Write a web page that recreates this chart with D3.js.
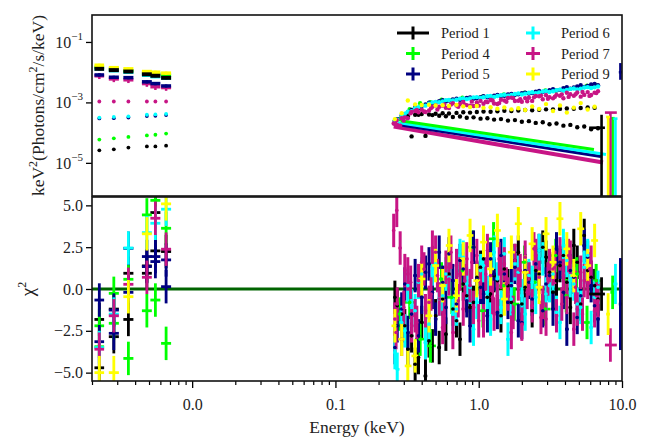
<!DOCTYPE html>
<html><head><meta charset="utf-8">
<script src="https://cdn.jsdelivr.net/npm/d3@7"></script>
<style>
html,body{margin:0;padding:0;background:#fff;}
svg{display:block;font-family:"Liberation Serif","Times New Roman",serif;}
</style></head><body>
<svg id="chart" width="648" height="440"></svg>
<script>
// ---------------- data ----------------
const periods = ["Period 1", "Period 4", "Period 5", "Period 6", "Period 7", "Period 9"];
const periodColors = ["#000000", "#00ff00", "#000080", "#00ffff", "#c71585", "#ffff00"];

const xTickValues = [0.01, 0.1, 1, 10];
const xTickLabels = ["0.0", "0.1", "1.0", "10.0"];
const fluxTickValues = [1e-1, 1e-3, 1e-5];
const fluxTickExp = ["−1", "−3", "−5"];
const chiTickValues = [-5, -2.5, 0, 2.5, 5];

// UV / optical filter bins (keV)
const uvE  = [0.00225, 0.00284, 0.00359, 0.00483, 0.00554, 0.00658];
const uvLo = [0.00208, 0.00262, 0.00331, 0.00446, 0.00511, 0.00607];
const uvHi = [0.00243, 0.00308, 0.00389, 0.00523, 0.00600, 0.00713];
const uvFracErr = [0.10, 0.12, 0.12, 0.10, 0.22, 0.12];

// unfolded UV flux, model and residuals per period
const p1Uv = [1.29e-2, 1.17e-2, 1.05e-2, 8.5e-3, 7.6e-3, 6.5e-3];
const p4Uv = [1.45e-2, 1.26e-2, 1.12e-2, 9.3e-3, 8.7e-3, 7.9e-3];
const p5Uv = [8.1e-3, 6.8e-3, 6.6e-3, 4.8e-3, 4.2e-3, 3.5e-3];
const p6Uv = [1.29e-2, 1.12e-2, 1.0e-2, 7.9e-3, 7.1e-3, 6.3e-3];
const p7Uv = [7.6e-3, 6.0e-3, 5.6e-3, 4.2e-3, 3.3e-3, 3.1e-3];
const p9Uv = [1.7e-2, 1.41e-2, 1.29e-2, 1.05e-2, 1.0e-2, 9.3e-3];

const p1UvModel = [2.6e-5, 2.8e-5, 3.2e-5, 3.5e-5, 3.5e-5, 3.7e-5];
const p4UvModel = [5.9e-5, 6.5e-5, 7.2e-5, 8.1e-5, 8.5e-5, 9.3e-5];
const p5UvModel = [2.95e-4, 3.0e-4, 3.15e-4, 3.55e-4, 3.6e-4, 3.8e-4];
const p6UvModel = [3.15e-4, 3.3e-4, 3.45e-4, 3.9e-4, 4.0e-4, 4.15e-4];
const p7UvModel = [1.07e-3, 1.07e-3, 1.07e-3, 1.07e-3, 1.07e-3, 1.07e-3];
const p9UvModel = [null, null, null, null, null, null];

const p1UvChi  = [-1.82, -1.2, 0.94, 1.38, 2.28, 2.24];
const p1UvChi2 = [-4.71, -2.85, -1.82, 0.94, 4.57, null];
const p4UvChi  = [-2.2, -0.26, 0.58, 4.43, -0.66, 3.63];
const p4UvChi2 = [-3.45, -2.05, -4.15, -1.3, 5.3, -3.25];
const p5UvChi  = [-0.66, -1.26, 2.43, 1.94, 1.64, 1.74];
const p5UvChi2 = [-3.15, -2.65, -0.2, 1.34, 1.94, 0.14];
const p6UvChi  = [-3.5, -1.5, 2.45, 3.37, 3.93, 4.77];
const p6UvChi2 = [null, null, null, null, null, null];
const p7UvChi  = [-3.6, -1.6, 0.28, 0.7, 4.23, 2.38];
const p7UvChi2 = [null, null, null, null, null, null];
const p9UvChi  = [-5.0, -5.0, -0.46, 3.3, null, 5.09];
const p9UvChi2 = [null, null, null, null, null, null];

// X-ray channel energies (keV)
const binsA = [0.26, 0.29, 0.32, 0.36, 0.40, 0.45, 0.50, 0.56, 0.62, 0.70, 0.78, 0.87, 0.97, 1.08, 1.21,
               1.35, 1.51, 1.69, 1.89, 2.11, 2.36, 2.64, 2.95, 3.30, 3.69, 4.12, 4.61, 5.15, 5.76, 6.44];
const binsB = [0.27, 0.305, 0.34, 0.38, 0.425, 0.475, 0.53, 0.59, 0.66, 0.74, 0.825, 0.92, 1.03, 1.15, 1.28,
               1.43, 1.60, 1.79, 2.00, 2.24, 2.50, 2.80, 3.12, 3.49, 3.90, 4.36, 4.87, 5.45, 6.09, 6.80];
const binsC = [0.265, 0.30, 0.335, 0.37, 0.415, 0.465, 0.515, 0.575, 0.64, 0.72, 0.80, 0.895, 1.0, 1.12, 1.25,
               1.39, 1.56, 1.74, 1.95, 2.18, 2.43, 2.72, 3.04, 3.40, 3.80, 4.24, 4.74, 5.30, 5.93, 6.62];

// Period 1
const p1E = binsA.concat(binsB);
const p1Flux = [2.5e-4, 3.2e-4, 3.5e-4, 3.9e-4, 4.1e-4, 4.0e-4, 4.2e-4, 4.4e-4, 4.3e-4, 4.5e-4, 4.7e-4, 4.6e-4, 4.8e-4, 5.0e-4, 4.9e-4,
                5.1e-4, 5.3e-4, 5.2e-4, 5.4e-4, 5.6e-4, 5.5e-4, 5.7e-4, 5.9e-4, 5.8e-4, 6.1e-4, 6.3e-4, 6.2e-4, 6.5e-4, 6.8e-4, 6.6e-4,
                2.8e-4, 3.6e-4, 7.5e-5, 3.9e-4, 7.8e-5, 3.8e-4, 3.6e-4, 3.5e-4, 3.3e-4, 3.4e-4, 3.1e-4, 3.2e-4, 2.9e-4, 3.0e-4, 2.7e-4,
                2.8e-4, 2.5e-4, 2.6e-4, 2.3e-4, 2.4e-4, 2.1e-4, 2.2e-4, 1.9e-4, 2.0e-4, 1.7e-4, 1.8e-4, 1.5e-4, 1.6e-4, 1.3e-4, 1.4e-4];
const p1Chi = [-0.5, -1.5, -3.6, -4.5, -2.0, -3.1, -1.6, -0.6, 0.9, -1.9, 0.3, -1.1, 0.7, 1.8, -0.3,
               0.5, 1.2, -0.8, 2.2, 0.1, -1.3, 0.9, 1.9, -0.2, 1.4, 0.4, 2.6, -0.9, 1.1, 0.2,
               -1.0, -2.2, -2.8, -4.1, -5.2, -3.4, -3.5, -2.7, -1.2, -3.0, -0.4, -0.8, 1.3, -0.5, 0.8,
               -1.6, 0.2, 1.7, -0.9, 0.6, 1.1, 2.5, 1.0, 0.5, 2.0, -1.1, 1.6, 3.2, 0.7, -0.6];

// Period 4
const p4E = [0.28, 0.33, 0.39, 0.46, 0.55, 0.65, 0.77, 0.91, 1.07, 1.27, 1.50, 1.77, 2.09, 2.47, 2.92, 3.45, 4.08, 4.82, 5.70, 6.60];
const p4Flux = [2.8e-4, 6.0e-4, 9.4e-4, 1.02e-3, 1.22e-3, 1.20e-3, 1.42e-3, 1.36e-3, 1.58e-3, 1.55e-3,
                1.82e-3, 1.78e-3, 2.10e-3, 2.10e-3, 2.50e-3, 2.50e-3, 3.00e-3, 3.05e-3, 3.60e-3, 3.70e-3];
const p4Chi = [-1.5, -0.8, -3.0, -3.4, 0.6, -0.5, 1.1, 2.5, -1.3, 3.0, 0.2, -0.9, 1.6, 0.4, -1.2, 2.0, -0.4, 0.9, -2.0, 0.5];

// Period 5
const p5E = binsA.concat(binsB);
const p5Flux = [2.4e-4, 3.7e-4, 4.8e-4, 6.9e-4, 7.6e-4, 9.8e-4, 1.0e-3, 1.18e-3, 1.15e-3, 1.32e-3, 1.25e-3, 1.45e-3, 1.38e-3, 1.6e-3, 1.52e-3,
                1.75e-3, 1.66e-3, 1.92e-3, 1.85e-3, 2.1e-3, 2.05e-3, 2.4e-3, 2.35e-3, 2.75e-3, 2.6e-3, 3.2e-3, 3.1e-3, 3.7e-3, 3.5e-3, 4.1e-3,
                2.8e-4, 4.1e-4, 5.6e-4, 6.4e-4, 8.5e-4, 9.0e-4, 1.1e-3, 1.08e-3, 1.25e-3, 1.22e-3, 1.4e-3, 1.33e-3, 1.5e-3, 1.48e-3, 1.68e-3,
                1.62e-3, 1.84e-3, 1.78e-3, 2.02e-3, 1.98e-3, 2.25e-3, 2.2e-3, 2.55e-3, 2.5e-3, 2.95e-3, 2.85e-3, 3.4e-3, 3.25e-3, 3.9e-3, 3.7e-3];
const p5Chi = [-3.5, -1.2, -2.6, 0.8, -0.5, 1.5, -1.8, 0.4, 2.1, -0.9, 1.2, -2.2, 0.6, -0.3, 1.8,
               -1.4, 0.9, 0.2, -1.9, 1.1, -0.6, 2.3, 0.3, -1.2, 1.6, -2.4, 0.7, -0.4, 1.9, -1.0,
               -2.2, 0.3, -1.5, -2.8, 1.0, -0.2, 2.2, -1.1, 0.5, 1.7, -0.7, 2.5, 0.1, -1.6, 0.9,
               2.0, -0.8, 1.3, -2.0, 0.4, 1.5, -1.3, 0.8, 2.4, -0.2, 1.1, -1.7, 2.6, 0.2, -1.8];

// Period 6
const p6E = binsB.concat(binsA);
const p6Flux = [2.7e-4, 4.2e-4, 5.1e-4, 7.0e-4, 7.8e-4, 1.0e-3, 1.02e-3, 1.19e-3, 1.15e-3, 1.33e-3, 1.28e-3, 1.47e-3, 1.41e-3, 1.6e-3, 1.52e-3,
                1.72e-3, 1.66e-3, 1.9e-3, 1.83e-3, 2.08e-3, 2.0e-3, 2.3e-3, 2.22e-3, 2.55e-3, 2.45e-3, 2.8e-3, 2.7e-3, 3.1e-3, 3.0e-3, 3.35e-3,
                2.6e-4, 3.6e-4, 4.9e-4, 6.4e-4, 8.0e-4, 9.0e-4, 1.04e-3, 1.08e-3, 1.2e-3, 1.22e-3, 1.36e-3, 1.35e-3, 1.5e-3, 1.48e-3, 1.64e-3,
                1.62e-3, 1.8e-3, 1.78e-3, 1.98e-3, 1.95e-3, 2.18e-3, 2.15e-3, 2.4e-3, 2.35e-3, 2.65e-3, 2.6e-3, 2.9e-3, 2.85e-3, 3.2e-3, 3.15e-3];
const p6Chi = [-4.8, -2.5, -1.0, 0.4, -3.2, 1.2, -0.6, 0.9, -1.5, 2.0, 0.3, -2.4, 1.1, -0.2, 2.2,
               -1.1, -3.0, 1.5, -0.4, 0.8, -0.5, 1.8, 0.2, -1.4, 2.6, 0.5, -0.9, 1.3, -2.3, 0.1,
               -3.8, -2.0, 0.2, -1.3, 0.9, -2.1, 1.5, -0.4, 0.7, -1.2, 1.9, 0.1, -0.8, 1.4, -1.8,
               0.6, 2.1, -0.6, 1.0, -1.5, 0.4, 2.3, -0.3, 0.9, -2.0, 1.7, 0.3, -1.1, 2.0, -0.5];

// Period 7
const p7E = [0.255, 0.268, 0.283].concat(binsA, binsB, binsC);
const p7Flux = [2.0e-4, 2.6e-4, 1.7e-4,
                1.96e-4, 3.0e-4, 3.0e-4, 5.2e-4, 5.7e-4, 5.4e-4, 7.9e-4, 7.8e-4, 6.5e-4, 7.9e-4, 1.04e-3, 7.8e-4, 1.0e-3, 9.0e-4, 1.2e-3,
                8.9e-4, 1.16e-3, 1.44e-3, 1.14e-3, 1.39e-3, 1.12e-3, 1.59e-3, 1.74e-3, 1.36e-3, 1.66e-3, 2.08e-3, 1.65e-3, 1.55e-3, 2.19e-3, 2.1e-3,
                1.8e-4, 3.2e-4, 4.8e-4, 4.7e-4, 4.8e-4, 7.2e-4, 7.2e-4, 6.6e-4, 9.4e-4, 8.9e-4, 8.1e-4, 7.6e-4, 1.12e-3, 1.02e-3, 9.2e-4,
                1.23e-3, 1.4e-3, 1.11e-3, 1.05e-3, 1.42e-3, 1.62e-3, 1.27e-3, 1.48e-3, 1.78e-3, 1.38e-3, 1.87e-3, 2.14e-3, 1.77e-3, 1.76e-3, 2.36e-3,
                1.9e-4, 2.5e-4, 4.4e-4, 5.6e-4, 5.0e-4, 6.5e-4, 5.8e-4, 8.6e-4, 8.5e-4, 7.2e-4, 8.4e-4, 1.06e-3, 7.8e-4, 1.06e-3, 1.16e-3,
                9.5e-4, 1.05e-3, 1.39e-3, 1.28e-3, 1.09e-3, 1.47e-3, 1.68e-3, 1.32e-3, 1.54e-3, 1.85e-3, 1.52e-3, 1.86e-3, 2.22e-3, 1.64e-3, 2.03e-3];
const p7Chi = [3.5, 4.7, 2.45,
               -1.8, -3.0, 0.9, -1.6, 1.6, -0.8, 2.2, -2.3, 0.6, 1.4, -1.2, 0.2, 2.0, -1.9, 0.8,
               -0.4, 1.5, -2.6, 0.3, 1.9, -1.0, 0.7, -1.8, 1.2, 2.1, -0.5, -2.4, 1.0, 0.4, -1.3,
               -0.9, 1.1, -2.2, 0.5, -1.3, 2.5, -0.6, 1.3, -2.6, 0.9, 1.8, -1.1, 0.4, 2.3, -1.5,
               1.0, -0.3, 1.7, -2.1, 0.6, 2.0, -0.8, 1.4, -1.6, 0.8, 1.9, -1.2, 0.5, 1.6, -0.7,
               -2.6, -1.1, 0.4, -2.0, 1.2, -0.3, 0.8, -1.6, 2.2, -0.7, 0.5, 1.6, -1.9, 0.9, -0.5,
               1.8, 0.3, -1.4, 1.1, -0.2, 2.4, -1.7, 0.6, 1.3, -0.9, 2.0, 0.1, -1.5, 1.2, -0.4];

// Period 9
const p9E = binsA;
const p9Flux = [2.8e-4, 4.4e-4, 1.15e-3, 8.6e-4, 8.2e-4, 8.4e-4, 7.9e-4, 8.1e-4, 7.6e-4, 8.3e-4, 7.4e-4, 7.0e-4, 7.6e-4, 6.6e-4, 6.9e-4,
                6.2e-4, 6.8e-4, 5.9e-4, 6.4e-4, 5.6e-4, 7.3e-4, 6.1e-4, 8.8e-4, 5.2e-4, 7.9e-4, 4.6e-4, 6.7e-4, 9.5e-4, 5.8e-4, 7.2e-4];
const p9Chi = [-2.2, -3.0, -4.6, -4.0, 0.6, -1.6, 1.4, 0.2, 2.6, -0.4, 1.8, 3.2, 0.5, 2.8, 1.2,
               3.5, -0.6, 2.2, 3.9, 1.0, 2.7, 0.1, 3.3, 1.6, 4.2, 2.4, 0.8, 3.6, 1.4, 2.9];

const xrayChiErr = [1.0, 1.0, 1.0, 1.0, 1.0, 1.0];

// highest-energy channels (flux lower limit 0 = unconstrained)
const tailE      = [7.2, 8.6, 9.75, 9.0, 8.3, 8.0];
const tailELo    = [5.9, 8.3, 9.5, 8.7, 7.6, 7.75];
const tailEHi    = [7.6, 8.9, 10.0, 9.3, 9.2, 8.25];
const tailFlux   = [1.45e-4, 3.0e-4, 1.0e-2, 2.9e-4, 4.6e-4, 3.3e-4];
const tailFluxHi = [3.9e-4, 3.2e-4, 2.0e-2, 3.0e-4, 4.8e-4, 3.4e-4];
const tailFluxLo = [0, 0, 5.6e-3, 0, 0, 0];
const tailChi    = [-0.3, -0.2, -0.9, 0.3, -3.35, -1.5];
const tailChiErr = [1.0, 1.0, 2.75, 1.2, 1.0, 1.25];

// power-law model curves (end points) for four periods
const modelPeriod = [4, 2, 3, 1];
const modelE0 = [0.255, 0.272, 0.272, 0.285];
const modelF0 = [1.58e-4, 1.84e-4, 2.14e-4, 2.49e-4];
const modelE1 = [7.37, 7.13, 7.73, 6.37];
const modelF1 = [1.02e-5, 1.61e-5, 1.88e-5, 2.75e-5];
const modelWidth = [4, 3, 3, 3];

// ---------------- layout ----------------
const L = 92, R = 622, T1 = 15, B1 = 196, T2 = 197, B2 = 381;
const FONT = '"Liberation Serif", "Times New Roman", serif';
const svg = d3.select("#chart");

const x = d3.scaleLog().domain([0.002, 10]).range([L, R]);
const yF = d3.scaleLog().domain([8e-7, 0.78]).range([B1, T1]);
const yC = d3.scaleLinear().domain([-5.5, 5.5]).range([B2, T2]);
const fy = v => (v <= 0 ? B1 + 10 : yF(v));

const series = periods.map((name, i) => ({
  name, color: periodColors[i],
  e: [p1E, p4E, p5E, p6E, p7E, p9E][i],
  flux: [p1Flux, p4Flux, p5Flux, p6Flux, p7Flux, p9Flux][i],
  chi: [p1Chi, p4Chi, p5Chi, p6Chi, p7Chi, p9Chi][i],
  uv: [p1Uv, p4Uv, p5Uv, p6Uv, p7Uv, p9Uv][i],
  uvModel: [p1UvModel, p4UvModel, p5UvModel, p6UvModel, p7UvModel, p9UvModel][i],
  uvChi: [[p1UvChi, p1UvChi2], [p4UvChi, p4UvChi2], [p5UvChi, p5UvChi2],
          [p6UvChi, p6UvChi2], [p7UvChi, p7UvChi2], [p9UvChi, p9UvChi2]][i]
}));

// channel edges from neighbouring channel centres
function channelEdges(energies) {
  const s = Array.from(new Set(energies)).sort((a, b) => a - b);
  const m = new Map();
  s.forEach((e, i) => {
    const prev = i > 0 ? s[i - 1] : e * e / s[i + 1];
    const next = i < s.length - 1 ? s[i + 1] : e * e / s[i - 1];
    m.set(e, [Math.sqrt(prev * e), Math.sqrt(e * next)]);
  });
  return m;
}

const defs = svg.append("defs");
defs.append("clipPath").attr("id", "clipTop").append("rect")
  .attr("x", L).attr("y", T1).attr("width", R - L).attr("height", B1 - T1);
defs.append("clipPath").attr("id", "clipBot").append("rect")
  .attr("x", L).attr("y", T2).attr("width", R - L).attr("height", B2 - T2);

const gTop = svg.append("g").attr("clip-path", "url(#clipTop)");
const gBot = svg.append("g").attr("clip-path", "url(#clipBot)");

function seg(g, x1, y1, x2, y2, color, w) {
  g.append("line").attr("x1", x1).attr("y1", y1).attr("x2", x2).attr("y2", y2)
    .attr("stroke", color).attr("stroke-width", w);
}

// ---- top panel: model curves ----
modelPeriod.forEach((p, k) => {
  seg(gTop, x(modelE0[k]), yF(modelF0[k]), x(modelE1[k]), yF(modelF1[k]), periodColors[p], modelWidth[k]);
});

// ---- top panel: UV model points ----
series.forEach(s => {
  s.uvModel.forEach((v, j) => {
    if (v == null) return;
    gTop.append("circle").attr("cx", x(uvE[j])).attr("cy", yF(v)).attr("r", 1.9).attr("fill", s.color);
  });
});

// ---- top panel: UV data crosses ----
const uvOrder = [4, 2, 3, 1, 5, 0];
uvOrder.forEach(i => {
  const s = series[i];
  s.uv.forEach((v, j) => {
    const f = uvFracErr[i];
    seg(gTop, x(uvE[j]), yF(v * (1 - f)), x(uvE[j]), yF(v * (1 + f)), s.color, 2.5);
    seg(gTop, x(uvLo[j]), yF(v), x(uvHi[j]), yF(v), s.color, i === 0 ? 4 : 3.5);
  });
});

// ---- top panel: X-ray unfolded points ----
series.forEach(s => {
  s.e.forEach((e, j) => {
    gTop.append("circle").attr("cx", x(e)).attr("cy", yF(s.flux[j])).attr("r", 2.2).attr("fill", s.color);
  });
});

// ---- top panel: highest channels ----
tailE.forEach((e, i) => {
  const c = periodColors[i];
  seg(gTop, x(e), fy(tailFluxLo[i]), x(e), yF(tailFluxHi[i]), c, 2.6);
  seg(gTop, x(tailELo[i]), yF(tailFlux[i]), x(tailEHi[i]), yF(tailFlux[i]), c, 2.6);
});

// ---- bottom panel: zero line ----
seg(gBot, L, yC(0), R, yC(0), "#006400", 3);

// ---- bottom panel: UV residuals ----
series.forEach(s => {
  s.uvChi.forEach(row => {
    row.forEach((c, j) => {
      if (c == null) return;
      seg(gBot, x(uvE[j]), yC(c - 1), x(uvE[j]), yC(c + 1), s.color, 2.8);
      seg(gBot, x(uvLo[j]), yC(c), x(uvHi[j]), yC(c), s.color, 2.8);
    });
  });
});

// ---- bottom panel: X-ray residuals ----
series.forEach((s, i) => {
  const edges = channelEdges(s.e);
  const err = xrayChiErr[i];
  s.e.forEach((e, j) => {
    const c = s.chi[j];
    const [lo, hi] = edges.get(e);
    seg(gBot, x(e), yC(c - err), x(e), yC(c + err), s.color, 3);
    seg(gBot, x(lo), yC(c), x(hi), yC(c), s.color, 2.6);
  });
});
series.forEach(s => {
  s.e.forEach((e, j) => {
    gBot.append("circle").attr("cx", x(e)).attr("cy", yC(s.chi[j])).attr("r", 1.8).attr("fill", s.color);
  });
});
tailE.forEach((e, i) => {
  const c = periodColors[i];
  seg(gBot, x(e), yC(tailChi[i] - tailChiErr[i]), x(e), yC(tailChi[i] + tailChiErr[i]), c, 2.8);
  seg(gBot, x(tailELo[i]), yC(tailChi[i]), x(tailEHi[i]), yC(tailChi[i]), c, 2.8);
});

// ---------------- axes ----------------
const tickFont = 16;

// top panel y axis
const gyF = svg.append("g").attr("transform", `translate(${L},0)`)
  .call(d3.axisLeft(yF).tickValues(fluxTickValues).tickSize(6).tickFormat(""));
gyF.select(".domain").remove();
gyF.selectAll(".tick line").attr("stroke-width", 1.3);
fluxTickValues.forEach((v, i) => {
  const t = svg.append("text").attr("x", L - 9).attr("y", yF(v) + 6)
    .attr("text-anchor", "end").attr("font-size", tickFont).attr("font-family", FONT).attr("fill", "#222");
  t.append("tspan").text("10");
  t.append("tspan").attr("dy", -8).attr("font-size", 11).text(fluxTickExp[i]);
});

// bottom panel y axis
const gyC = svg.append("g").attr("transform", `translate(${L},0)`)
  .call(d3.axisLeft(yC).tickValues(chiTickValues).tickSize(6).tickPadding(3)
    .tickFormat(d3.format(".1f")));
gyC.attr("font-family", FONT).attr("font-size", tickFont);
gyC.select(".domain").remove();
gyC.selectAll(".tick line").attr("stroke-width", 1.3);
gyC.selectAll("text").attr("fill", "#222");

// bottom x axis (major + minor ticks)
const minorTicks = [];
[0.001, 0.01, 0.1, 1].forEach(dec => {
  for (let k = 2; k <= 9; k++) {
    const v = k * dec;
    if (v >= 0.002 && v <= 10) minorTicks.push(v);
  }
});
const gxMinor = svg.append("g").attr("transform", `translate(0,${B2})`)
  .call(d3.axisBottom(x).tickValues(minorTicks).tickSize(4).tickFormat(""));
gxMinor.select(".domain").remove();
gxMinor.selectAll(".tick line").attr("stroke-width", 1.2);
const gx = svg.append("g").attr("transform", `translate(0,${B2})`)
  .call(d3.axisBottom(x).tickValues(xTickValues).tickSize(7).tickPadding(10.5)
    .tickFormat((d, i) => xTickLabels[i]));
gx.attr("font-family", FONT).attr("font-size", tickFont);
gx.select(".domain").remove();
gx.selectAll(".tick line").attr("stroke-width", 1.3);
gx.selectAll("text").attr("fill", "#222");

// panel frames
svg.append("rect").attr("x", L).attr("y", T1).attr("width", R - L).attr("height", B1 - T1)
  .attr("fill", "none").attr("stroke", "#111").attr("stroke-width", 1.6);
svg.append("rect").attr("x", L).attr("y", T2).attr("width", R - L).attr("height", B2 - T2)
  .attr("fill", "none").attr("stroke", "#111").attr("stroke-width", 1.6);

// axis titles
svg.append("text").attr("x", (L + R) / 2).attr("y", 433).attr("text-anchor", "middle")
  .attr("font-family", FONT).attr("font-size", 17.5).attr("fill", "#222").text("Energy (keV)");

const yt = svg.append("text").attr("transform", `translate(44,${(T1 + B1) / 2}) rotate(-90)`)
  .attr("text-anchor", "middle").attr("font-family", FONT).attr("font-size", 17.5).attr("fill", "#222");
yt.append("tspan").text("keV");
yt.append("tspan").attr("dy", -7).attr("font-size", 12).text("2");
yt.append("tspan").attr("dy", 7).text("(Photons/cm");
yt.append("tspan").attr("dy", -7).attr("font-size", 12).text("2");
yt.append("tspan").attr("dy", 7).text("/s/keV)");

const ct = svg.append("text").attr("transform", `translate(34,${(T2 + B2) / 2}) rotate(-90)`)
  .attr("text-anchor", "middle").attr("font-family", FONT).attr("font-size", 19).attr("fill", "#222");
ct.append("tspan").text("χ");
ct.append("tspan").attr("dy", -8).attr("font-size", 12).text("2");

// legend
const legend = svg.append("g");
periods.forEach((name, i) => {
  const col = Math.floor(i / 3), row = i % 3;
  const mx = 413 + col * 120, my = 33 + row * 20.5;
  const half = i === 0 ? 16 : 7;
  seg(legend, mx - half, my, mx + half, my, periodColors[i], 3);
  seg(legend, mx, my - 6.5, mx, my + 6.5, periodColors[i], 3);
  legend.append("text").attr("x", mx + 28).attr("y", my + 5)
    .attr("font-family", FONT).attr("font-size", 14.5).attr("fill", "#222").text(name);
});
</script>
</body></html>
